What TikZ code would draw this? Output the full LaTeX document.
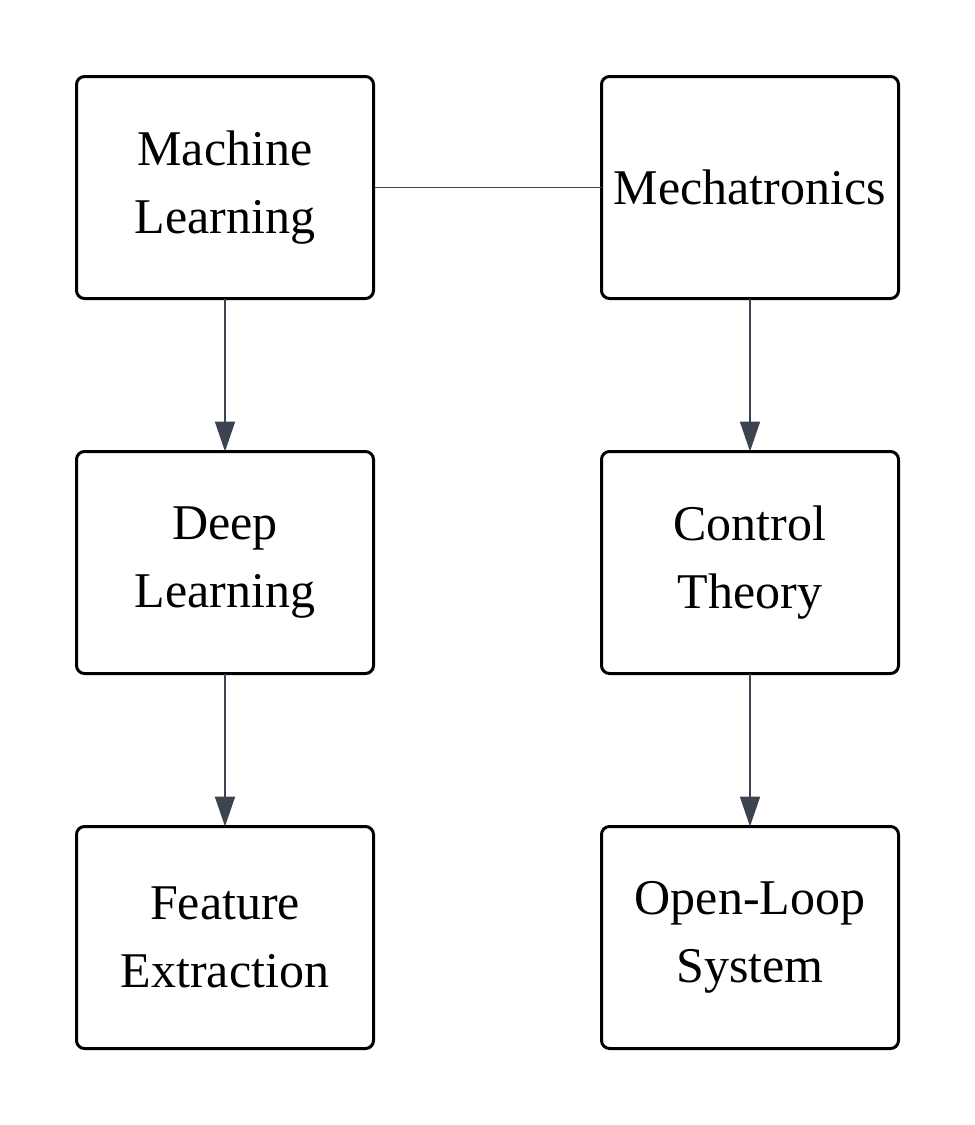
\documentclass[tikz,border=0pt]{standalone}
\usepackage{fontspec}
\setmainfont{Liberation Serif}
\usepackage{xcolor}
\usepackage{tikz}
\usetikzlibrary{positioning,arrows.meta}
\definecolor{CLinkGray}{HTML}{3D4350}

\begin{document}
\begin{tikzpicture}[x=1pt,y=1pt,node distance=153pt and 228pt,
  box/.style={draw=black,line width=3pt,rounded corners=8pt,fill=white,outer sep=0pt,
              minimum width=297pt,minimum height=222pt,align=center,
              font=\fontsize{50}{68}\selectfont},
  arr/.style={-{Triangle[length=30pt,width=20pt]},line width=2pt,CLinkGray}]
  \useasboundingbox (0,0) rectangle (975,-1125);
  \node[box] (ml) at (225,-187.5) {Machine\\Learning};
  \node[box,right=of ml] (mech) {Mechatronics};
  \node[box,below=of ml] (dl) {Deep\\Learning};
  \node[box,below=of dl] (fe) {Feature\\Extraction};
  \node[box,below=of mech] (ct) {Control\\Theory};
  \node[box,below=of ct] (ol) {Open-Loop\\System};
  \draw[line width=1pt,CLinkGray] (ml)--(mech);
  \draw[arr] (ml)--(dl); \draw[arr] (dl)--(fe);
  \draw[arr] (mech)--(ct); \draw[arr] (ct)--(ol);
\end{tikzpicture}
\end{document}
